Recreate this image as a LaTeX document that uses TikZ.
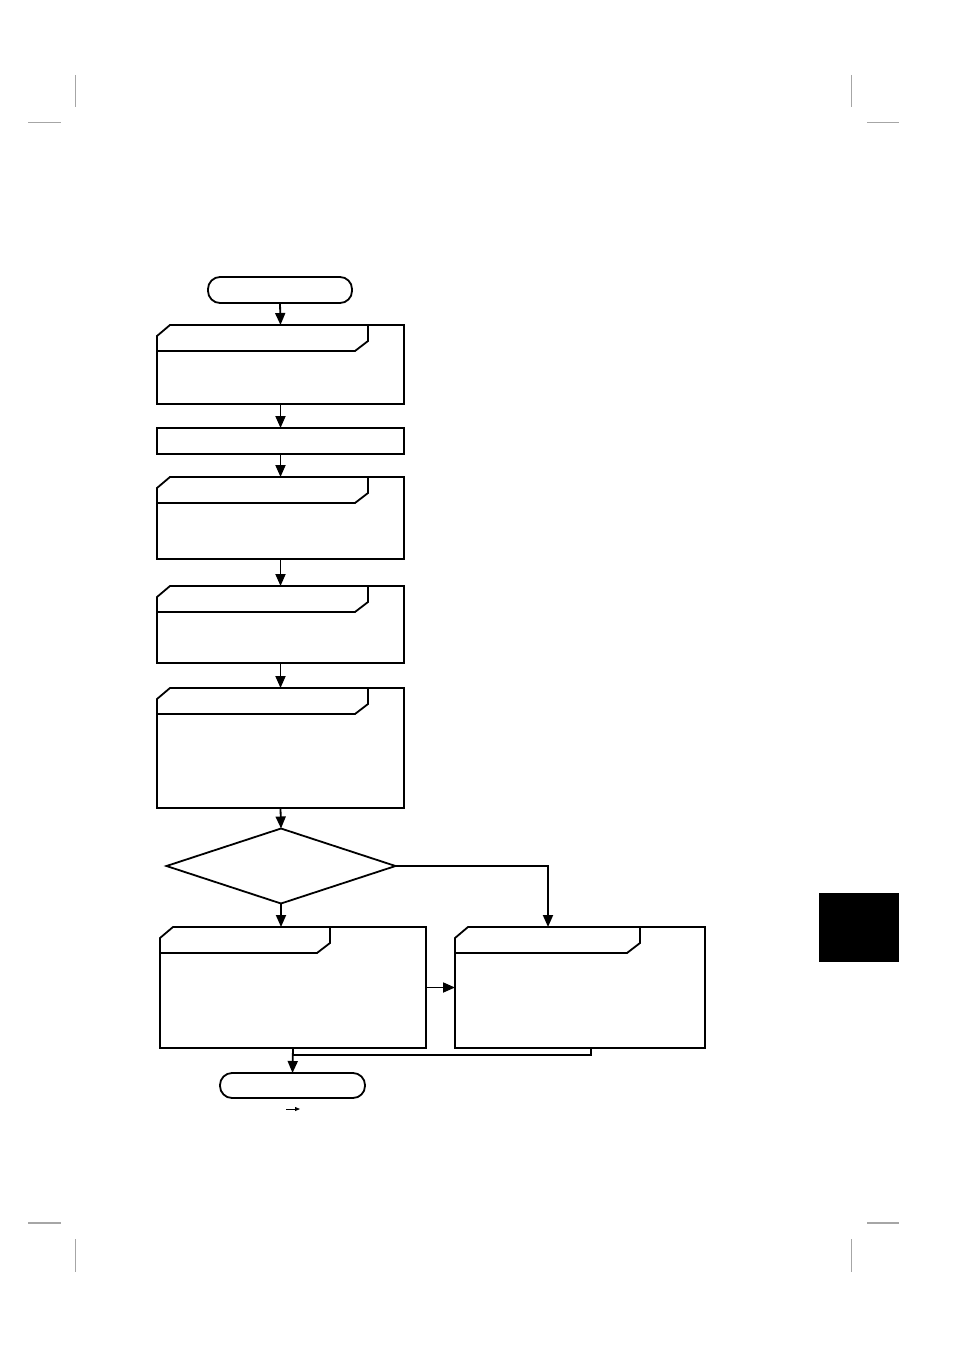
\documentclass[tikz,border=0pt]{standalone}
\usetikzlibrary{arrows.meta,positioning,shapes.geometric}

\tikzset{
    frame/.style={line width=1.8pt},
    box/.style={rectangle,minimum width=247pt,inner sep=0pt,outer sep=0pt},
    term/.style={rectangle,draw,rounded corners=12pt,line width=1.8pt,
        minimum width=144pt,minimum height=26pt,inner sep=0pt,outer sep=0pt},
    decision/.style={diamond,draw,line width=1.8pt,minimum width=229pt,
        minimum height=75pt,inner sep=0pt,outer sep=0pt},
    arrow/.style={line width=1.8pt,-{Triangle[length=12pt,width=10pt]}},
    link/.style={line width=1.8pt},
    cropmark/.style={line width=1.2pt,color=black!35},
}

% outline with cut corner and title tab
\newcommand{\tabframe}[2]{%
    \draw[frame] ([yshift=-11pt]#1.north west) -- ([xshift=13pt]#1.north west)
        -- (#1.north east) -- (#1.south east) -- (#1.south west) -- cycle;
    \draw[frame] ([xshift=#2pt]#1.north west) -- ++(0,-16) -- ++(-13,-10)
        -- ([yshift=-26pt]#1.north west);
}

\begin{document}
\begin{tikzpicture}[x=1pt,y=1pt]
    \useasboundingbox (0,0) rectangle (954,-1348);

    % crop marks
    \draw[cropmark] (75.5,-75) -- (75.5,-107);
    \draw[cropmark] (28,-122.5) -- (61,-122.5);
    \draw[cropmark] (851.5,-75) -- (851.5,-107);
    \draw[cropmark] (867,-122.5) -- (899,-122.5);
    \draw[cropmark] (28,-1223) -- (61,-1223);
    \draw[cropmark] (75.5,-1239) -- (75.5,-1272);
    \draw[cropmark] (867,-1223) -- (899,-1223);
    \draw[cropmark] (851.5,-1239) -- (851.5,-1272);

    % thumb index
    \fill (819,-893) rectangle (899,-962);

    % main column
    \node[term] (start) at (280,-290) {};
    \node[box,minimum height=79pt] (b1) at (280.5,-364.5) {};
    \tabframe{b1}{211}
    \node[box,draw,line width=1.8pt,minimum height=26pt] (b2) at (280.5,-441) {};
    \node[box,minimum height=82pt] (b3) at (280.5,-518) {};
    \tabframe{b3}{211}
    \node[box,minimum height=77pt] (b4) at (280.5,-624.5) {};
    \tabframe{b4}{211}
    \node[box,minimum height=120pt] (b5) at (280.5,-748) {};
    \tabframe{b5}{211}
    \node[decision] (dec) at (281,-866) {};

    % two branches
    \node[box,minimum width=266pt,minimum height=121pt] (bl) at (293,-987.5) {};
    \tabframe{bl}{170}
    \node[box,minimum width=250pt,minimum height=121pt] (br) at (580,-987.5) {};
    \tabframe{br}{185}

    \node[term,minimum width=145pt,minimum height=25pt] (stop) at (292.5,-1085.5) {};

    \draw[arrow] (start.south) -- (b1.north);
    \draw[arrow] (b1.south) -- (b2.north);
    \draw[arrow] (b2.south) -- (b3.north);
    \draw[arrow] (b3.south) -- (b4.north);
    \draw[arrow] (b4.south) -- (b5.north);
    \draw[arrow] (b5.south) -- (dec.north);
    \draw[arrow] (dec.south) -- (dec.south |- bl.north);
    \draw[arrow] (dec.east) -| ([xshift=-32pt]br.north);
    \draw[arrow] (bl.east) -- (br.west);

    \coordinate (merge) at ([yshift=-7pt]bl.south);
    \draw[link] ([xshift=11pt]br.south) |- (merge);
    \draw[arrow] (bl.south) -- (stop.north);

    % small arrow under the end
    \coordinate (sa) at (286,-1109);
    \coordinate (sb) at (300,-1109);
    \draw[line width=0.8pt,-{Triangle[length=5pt,width=4pt]}] (sa) -- (sb);
\end{tikzpicture}
\end{document}
